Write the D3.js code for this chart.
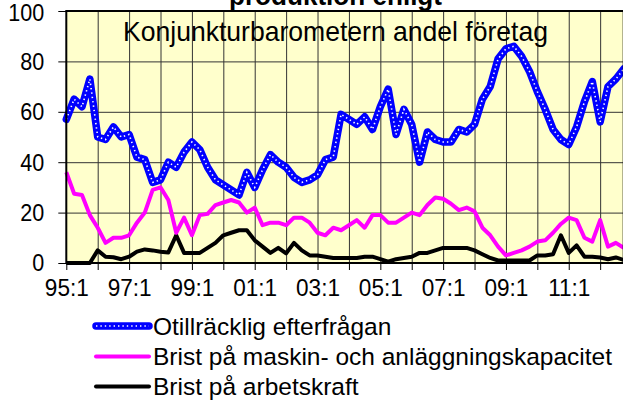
<!DOCTYPE html>
<html><head><meta charset="utf-8">
<script src="https://cdn.jsdelivr.net/npm/d3@7"></script>
<style>
body{margin:0;background:#fff}
svg{display:block}
text{font-family:"Liberation Sans",Arial,sans-serif;fill:#000}
</style>
</head><body>
<svg id="c" width="623" height="408"></svg>
<script>
const quarters = [
 "95:1","95:2","95:3","95:4","96:1","96:2","96:3","96:4","97:1","97:2","97:3","97:4",
 "98:1","98:2","98:3","98:4","99:1","99:2","99:3","99:4","00:1","00:2","00:3","00:4",
 "01:1","01:2","01:3","01:4","02:1","02:2","02:3","02:4","03:1","03:2","03:3","03:4",
 "04:1","04:2","04:3","04:4","05:1","05:2","05:3","05:4","06:1","06:2","06:3","06:4",
 "07:1","07:2","07:3","07:4","08:1","08:2","08:3","08:4","09:1","09:2","09:3","09:4",
 "10:1","10:2","10:3","10:4","11:1","11:2","11:3","11:4","12:1","12:2","12:3","12:4"];
const otillracklig = [57,65,62,73,50,49,54,50,51,42, 41,32,33,40,38,44,48,45,38,33,
 31,29,27,36,30,37,43,40,38,34, 32,33,35,41,42,59,57,55,58,53,
 62,69,51,61,55,40,52,49,48,48, 53,52,55,65,70,81,85,86,82,76,
 68,61,53,49,47,54,64,72,56,70, 73,77];
const maskin = [36,27.5,27,19,14,8,10,10,11,16, 20,29,30,25,12,18,11,19,19.5,23,
 24,25,24,20,22,15,16,16,15,18, 18,16,12,11,14,13,15,17,14,19,
 19,16,16,18,20,19,23,26,25.5,23.5, 21,22,20.5,14,11,6.5,3,4,5,6.5,
 8.5,9,12,15.5,18,17,10,8.5,17,6.5, 8,6];
const arbetskraft = [0,0,0,0,5,2.5,2.3,1.5,2.5,4.5, 5.4,5,4.5,4.2,11,4,4,4,6,8,
 11,12,13,13,9,6.5,4,6,3.8,8, 5,3,3,2.5,2,2,2,2,2.5,2.5,
 1.5,0.5,1.5,2,2.5,4,4,5,6,6, 6,6,5,3.5,2,1,1,1,1,1,
 3,3,3.5,11,4,7,2.5,2.5,2.2,1.5, 2.2,1.2];
const yearTicks = ["95:1","96:1","97:1","98:1","99:1","00:1","01:1","02:1","03:1","04:1","05:1","06:1","07:1","08:1","09:1","10:1","11:1","12:1"];
const xTickLabels = ["95:1","97:1","99:1","01:1","03:1","05:1","07:1","09:1","11:1"];
const yTicks = [0,20,40,60,80,100];
const seriesNames = ["Otillräcklig efterfrågan","Brist på maskin- och anläggningskapacitet","Brist på arbetskraft"];
const titleText = "produktion enligt";
const subtitleText = "Konjunkturbarometern andel företag";

const svg = d3.select("#c");
const L = 66.3, R = 623.7, T = 11, B = 263;
const x = d3.scalePoint().domain(quarters).range([L, R]);
const y = d3.scaleLinear().domain([0, 100]).range([B, T]);

function squeeze(sel, f) {
  sel.each(function() {
    const w = this.getComputedTextLength();
    d3.select(this).attr("textLength", w * f).attr("lengthAdjust", "spacingAndGlyphs");
  });
}

svg.append("rect").attr("x", L).attr("y", T).attr("width", R - L).attr("height", B - T).attr("fill", "#FFFFCC");

// vertical grid
const gv = svg.append("g").attr("transform", `translate(0,${B})`)
  .call(d3.axisBottom(x).tickValues(yearTicks.slice(1)).tickSize(-(B - T)).tickFormat(""));
gv.select(".domain").remove();
gv.selectAll("line").attr("stroke", "#333").attr("stroke-width", 1);
// horizontal grid
const gh = svg.append("g").attr("transform", `translate(${L},0)`)
  .call(d3.axisLeft(y).tickValues(yTicks.slice(1, -1)).tickSize(-(R - L)).tickFormat(""));
gh.select(".domain").remove();
gh.selectAll("line").attr("stroke", "#333").attr("stroke-width", 1);

// title texts
svg.append("text").attr("x", 335.5).attr("y", 5).attr("text-anchor", "middle")
  .attr("font-size", 28).attr("font-weight", "bold").attr("textLength", 213).attr("lengthAdjust", "spacingAndGlyphs").text(titleText);
svg.append("text").attr("x", 335.5).attr("y", 40.5).attr("text-anchor", "middle")
  .attr("font-size", 28.5).attr("textLength", 425).attr("lengthAdjust", "spacingAndGlyphs").text(subtitleText);

// lines
const line = d3.line().x((d, i) => x(quarters[i])).y(d => y(d));
svg.append("path").datum(arbetskraft).attr("d", line).attr("fill", "none")
  .attr("stroke", "#000").attr("stroke-width", 4).attr("stroke-linejoin", "round");
svg.append("path").datum(maskin).attr("d", line).attr("fill", "none")
  .attr("stroke", "#FF00FF").attr("stroke-width", 4).attr("stroke-linejoin", "round");
svg.append("path").datum(otillracklig).attr("d", line).attr("fill", "none")
  .attr("stroke", "#0000FF").attr("stroke-width", 7.5).attr("stroke-linejoin", "round").attr("stroke-linecap", "round");
svg.append("path").datum(otillracklig).attr("d", line).attr("fill", "none")
  .attr("stroke", "#fff").attr("stroke-width", 1.6).attr("stroke-dasharray", "1.4,3");

// border
svg.append("rect").attr("x", L).attr("y", T).attr("width", R - L).attr("height", B - T)
  .attr("fill", "none").attr("stroke", "#000").attr("stroke-width", 2);

// axes
const ax = svg.append("g").attr("transform", `translate(0,${B})`)
  .call(d3.axisBottom(x).tickValues(yearTicks).tickSize(7).tickPadding(9)
    .tickFormat(d => xTickLabels.includes(d) ? d : ""));
ax.select(".domain").remove();
ax.selectAll("line").attr("stroke", "#000").attr("stroke-width", 1);
ax.selectAll("text").attr("font-size", 24).attr("font-family", null);
squeeze(ax.selectAll("text").filter(function(){ return this.textContent.length > 0; }), 0.94);
const ay = svg.append("g").attr("transform", `translate(${L},0)`)
  .call(d3.axisLeft(y).tickValues(yTicks).tickSize(8).tickPadding(14));
ay.select(".domain").remove();
ay.selectAll("line").attr("stroke", "#000").attr("stroke-width", 1);
ay.selectAll("text").attr("font-size", 24.5).attr("font-family", null);
squeeze(ay.selectAll("text"), 0.88);
ay.selectAll("text").filter(d => d === 100).attr("dy", "0.38em");

// legend
const legY = [326, 356.5, 386.5];
const styles = [
  {c: "#0000FF", w: 7.5, dots: true},
  {c: "#FF00FF", w: 4},
  {c: "#000", w: 4}];
seriesNames.forEach((name, i) => {
  const g = svg.append("g");
  g.append("line").attr("x1", 96).attr("x2", 149).attr("y1", legY[i]).attr("y2", legY[i])
    .attr("stroke", styles[i].c).attr("stroke-width", styles[i].w).attr("stroke-linecap", "round");
  if (styles[i].dots) g.append("line").attr("x1", 96).attr("x2", 149).attr("y1", legY[i]).attr("y2", legY[i])
    .attr("stroke", "#fff").attr("stroke-width", 1.6).attr("stroke-dasharray", "1.4,3");
  g.append("text").attr("x", 153).attr("y", legY[i]).attr("dy", "0.36em")
    .attr("font-size", 24.5).text(name);
});
</script>
</body></html>
